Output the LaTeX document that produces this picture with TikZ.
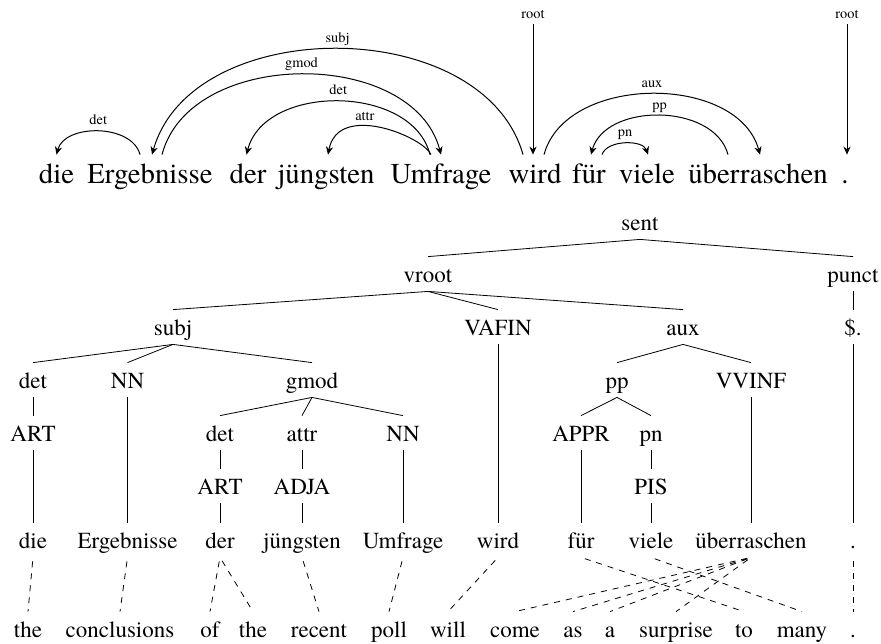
\documentclass[tikz,border=0pt]{standalone}
\usepackage{fontspec}
\setmainfont{texgyretermes-regular.otf}
\usetikzlibrary{arrows.meta}

\tikzset{
	tw/.style={anchor=base, font=\fontsize{14.4}{17}\selectfont, inner sep=2pt, text height=12pt, text depth=0pt},
	lbl/.style={font=\fontsize{7.2}{9}\selectfont, inner sep=1.5pt, text height=5pt, text depth=1.5pt},
	tn/.style={anchor=base, font=\fontsize{11.5}{14}\selectfont, inner sep=2pt, text height=10.5pt, text depth=2.5pt},
	depedge/.style={-{Stealth[length=4pt,width=3.6pt]}, line width=0.5pt},
	tl/.style={line width=0.4pt},
	al/.style={dashed, line width=0.4pt, shorten <=2pt},
}

\begin{document}
\begin{tikzpicture}[x=0.5pt, y=-0.5pt]
	\useasboundingbox (0,0) rectangle (881,643);

	% sentence with its dependency arcs
	\node[tw] (tdie) at (56.5,183) {die};
	\node[tw] (terg) at (150,183) {Ergebnisse};
	\node[tw] (tder) at (248,183) {der};
	\node[tw] (tjung) at (326,183) {jüngsten};
	\node[tw] (tumf) at (441,183) {Umfrage};
	\node[tw] (twird) at (535,183) {wird};
	\node[tw] (tfur) at (589,183) {für};
	\node[tw] (tviele) at (647,183) {viele};
	\node[tw] (tuber) at (758,183) {überraschen};
	\node[tw] (tdot) at (845,183) {.};

	\draw[depedge] ([xshift=-5pt]terg.north) .. controls +(-8,-31) and +(8,-31) .. (tdie.north) node[lbl, pos=.5, above] {det};
	\draw[depedge] ([xshift=-6pt]twird.north) .. controls +(-40,-141) and +(40,-141) .. ([xshift=1pt]terg.north) node[lbl, pos=.5, above] {subj};
	\draw[depedge] ([xshift=6pt]terg.north) .. controls +(28,-107) and +(-28,-107) .. (tumf.north) node[lbl, pos=.5, above] {gmod};
	\draw[depedge] ([xshift=-5.5pt]tumf.north) .. controls +(-18,-71) and +(18,-71) .. ([xshift=-.75pt]tder.north) node[lbl, pos=.5, above] {det};
	\draw[depedge] ([xshift=-5pt]tumf.north) .. controls +(-8,-18) and +(10,-53) .. ([xshift=1pt]tjung.north) node[lbl, pos=.61, above] {attr};
	\draw[depedge] ([xshift=4.5pt]twird.north) .. controls +(22,-81) and +(-22,-81) .. ([xshift=1pt]tuber.north) node[lbl, pos=.5, above] {aux};
	\draw[depedge] ([xshift=-15pt]tuber.north) .. controls +(-14,-52) and +(14,-52) .. ([xshift=1pt]tfur.north) node[lbl, pos=.5, above] {pp};
	\draw[depedge] ([xshift=6.5pt]tfur.north) .. controls +(5,-15) and +(-5,-15) .. ([xshift=.5pt]tviele.north) node[lbl, pos=.5, above] {pn};

	\node[lbl, anchor=base] (rta) at (533,18) {root};
	\draw[depedge] (rta.south) -- (rta.south |- twird.north);
	\node[lbl, anchor=base] (rtb) at (847,18) {root};
	\draw[depedge] (rtb.south) -- (rtb.south |- tdot.north);

	% tree
	\node[tn] (sent) at (640,230) {sent};
	\node[tn] (vroot) at (428,282) {vroot};
	\node[tn] (punct) at (853,282) {punct};
	\node[tn] (subj) at (173,335) {subj};
	\node[tn] (vafin) at (498,335) {VAFIN};
	\node[tn] (aux) at (683,335) {aux};
	\node[tn] (dollar) at (853,335) {\$.};
	\node[tn] (deta) at (33,388) {det};
	\node[tn] (nna) at (127.5,388) {NN};
	\node[tn] (gmod) at (312,388) {gmod};
	\node[tn] (pp) at (617,388) {pp};
	\node[tn] (vvinf) at (751,388) {VVINF};
	\node[tn] (arta) at (33,441) {ART};
	\node[tn] (detb) at (220,441) {det};
	\node[tn] (attr) at (302,441) {attr};
	\node[tn] (nnb) at (403,441) {NN};
	\node[tn] (appr) at (581,441) {APPR};
	\node[tn] (pn) at (651,441) {pn};
	\node[tn] (artb) at (220,494) {ART};
	\node[tn] (adja) at (302,494) {ADJA};
	\node[tn] (pis) at (651,494) {PIS};

	\node[tn] (wdie) at (33,548) {die};
	\node[tn] (wergeb) at (127.5,548) {Ergebnisse};
	\node[tn] (wder) at (220,548) {der};
	\node[tn] (wjung) at (302,548) {jüngsten};
	\node[tn] (wumf) at (403,548) {Umfrage};
	\node[tn] (wwird) at (498,548) {wird};
	\node[tn] (wfur) at (581,548) {für};
	\node[tn] (wviele) at (651,548) {viele};
	\node[tn] (wuber) at (751,548) {überraschen};
	\node[tn] (wdot) at (853,548) {.};

	\foreach \p/\c in {sent/vroot, sent/punct, vroot/subj, vroot/vafin, vroot/aux, punct/dollar,
		subj/deta, subj/nna, subj/gmod, aux/pp, aux/vvinf, deta/arta, gmod/detb, gmod/attr, gmod/nnb,
		pp/appr, pp/pn, detb/artb, attr/adja, pn/pis, arta/wdie, nna/wergeb, artb/wder, adja/wjung,
		nnb/wumf, vafin/wwird, appr/wfur, pis/wviele, vvinf/wuber, dollar/wdot}
		\draw[tl] (\p.south) -- (\c.north);

	% translation
	\node[tn] (ethe) at (28,637) {the};
	\node[tn] (econc) at (120,637) {conclusions};
	\node[tn] (eof) at (210,637) {of};
	\node[tn] (ethetwo) at (253,637) {the};
	\node[tn] (erecent) at (319,637) {recent};
	\node[tn] (epoll) at (389,637) {poll};
	\node[tn] (ewill) at (448,637) {will};
	\node[tn] (ecome) at (515,637) {come};
	\node[tn] (eas) at (573,637) {as};
	\node[tn] (ea) at (610,637) {a};
	\node[tn] (esurp) at (676,637) {surprise};
	\node[tn] (eto) at (744,637) {to};
	\node[tn] (emany) at (802,637) {many};
	\node[tn] (edot) at (853,637) {.};

	\foreach \w/\e in {wdie/ethe, wergeb/econc, wder/eof, wder/ethetwo, wjung/erecent, wumf/epoll,
		wwird/ewill, wfur/eto, wviele/emany, wuber/ecome, wuber/eas, wuber/ea, wuber/esurp, wdot/edot}
		\draw[al] (\w.south) -- (\e.north);
\end{tikzpicture}
\end{document}
